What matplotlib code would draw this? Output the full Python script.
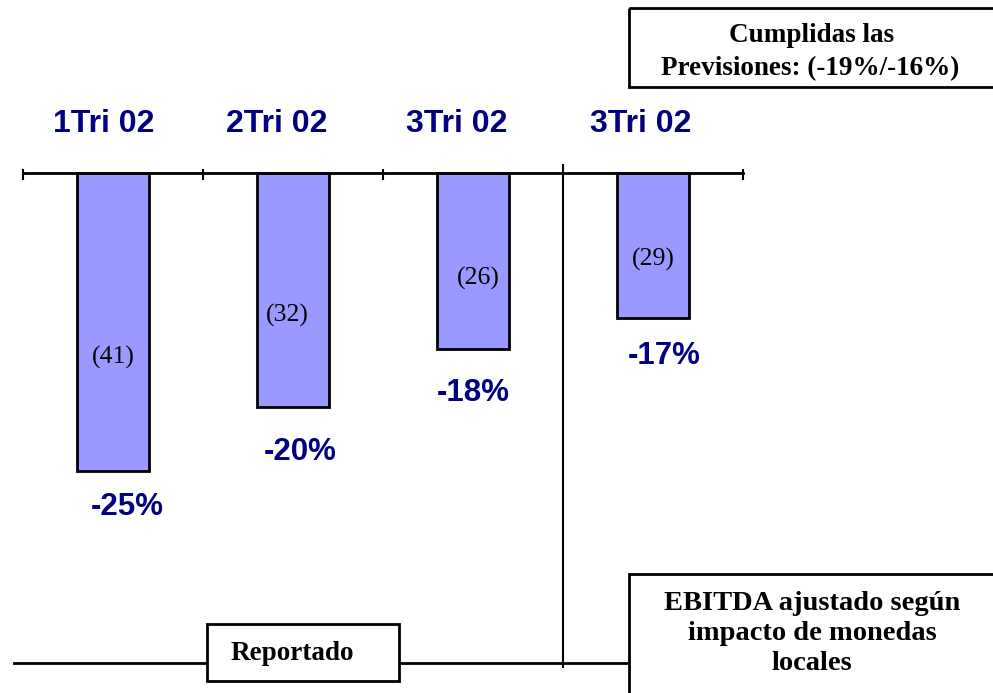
import matplotlib.pyplot as plt
from matplotlib.patches import Rectangle

# Datos del grafico
periodos = ["1Tri 02", "2Tri 02", "3Tri 02", "3Tri 02"]
valores = ["(41)", "(32)", "(26)", "(29)"]
variacion = ["-25%", "-20%", "-18%", "-17%"]
# profundidad de cada barra tal como se ve en el dibujo
profundidad = [29.8, 23.4, 17.6, 14.5]

azul = "#000080"
relleno = "#9999FF"

fig = plt.figure(figsize=(9.93, 6.93), dpi=100)
ax = fig.add_axes([0, 0, 1, 1])
ax.set_xlim(-113 / 180, (993 - 113) / 180)
ax.set_ylim(-52.0, 17.3)
ax.axis("off")

x = list(range(len(periodos)))
ax.bar(x, [-p for p in profundidad], width=0.4, color=relleno,
       edgecolor="black", linewidth=2, zorder=2)

# eje superior con marcas
ax.plot([-0.5, 3.5], [0, 0], color="black", lw=2, zorder=3)
for t in [-0.5, 0.5, 1.5, 3.5]:
    ax.plot([t, t], [0.3, -0.6], color="black", lw=1.5, zorder=3)
# separador vertical
ax.plot([2.5, 2.5], [0.8, -49.4], color="black", lw=1.5)
# linea inferior
ax.plot([-0.55, 2.86], [-49.0, -49.0], color="black", lw=2)

# posiciones de etiquetas (en unidades del eje)
pos_per_x = [-0.05, -0.09, -0.09, -0.07]
pos_val_x = [0.0, -0.03, 0.03, 0.0]
pos_val_y = [-18.4, -14.2, -10.5, -8.6]
pos_var_x = [0.08, 0.04, 0.0, 0.06]
pos_var_y = [-33.4, -27.9, -22.0, -18.3]

for i in x:
    ax.text(i + pos_per_x[i], 4.9, periodos[i], ha="center", va="center",
            fontsize=23, fontweight="bold", color=azul,
            family="Liberation Sans")
    ax.text(i + pos_val_x[i], pos_val_y[i], valores[i], ha="center",
            va="center", fontsize=18.5, family="Liberation Serif")
    ax.text(i + pos_var_x[i], pos_var_y[i], variacion[i], ha="center",
            va="center", fontsize=22.5, fontweight="bold", color=azul,
            family="Liberation Sans")

# capa de anotaciones en pixeles
ov = fig.add_axes([0, 0, 1, 1], facecolor="none")
ov.set_xlim(0, 993)
ov.set_ylim(693, 0)
ov.axis("off")

caja = dict(ha="center", va="baseline", fontsize=19.5, fontweight="bold",
            family="Liberation Serif", zorder=4)

ov.add_patch(Rectangle((629, 8), 380, 79, fill=False, lw=2, ec="black"))
ov.text(812, 42, "Cumplidas las", **caja)
ov.text(810, 75, "Previsiones: (-19%/-16%)", **caja)

ov.add_patch(Rectangle((207, 624), 192, 57, fill=True, fc="white", lw=2,
                       ec="black", zorder=3))
ov.text(292, 660, "Reportado", **caja)

ov.add_patch(Rectangle((629, 574), 380, 140, fill=True, fc="white", lw=2,
                       ec="black", zorder=3))
caja["fontsize"] = 20.5
ov.text(812, 610, "EBITDA ajustado según", **caja)
ov.text(812, 640, "impacto de monedas", **caja)
ov.text(812, 670, "locales", **caja)

fig.savefig("out.png", dpi=100)
